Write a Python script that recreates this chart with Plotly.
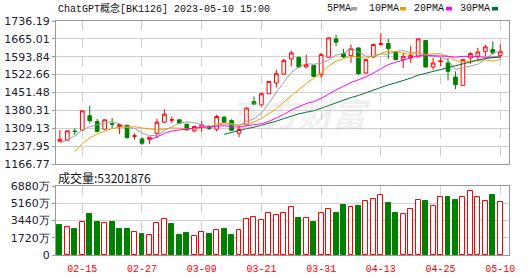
import plotly.graph_objects as go
import pandas as pd

# ---------------- data ----------------
dates = ["02-10","02-13","02-14","02-15","02-16","02-17","02-20","02-21","02-22","02-23",
         "02-24","02-27","02-28","03-01","03-02","03-03","03-06","03-07","03-08","03-09",
         "03-10","03-13","03-14","03-15","03-16","03-17","03-20","03-21","03-22","03-23",
         "03-24","03-27","03-28","03-29","03-30","03-31","04-03","04-04","04-06","04-07",
         "04-10","04-11","04-12","04-13","04-14","04-17","04-18","04-19","04-20","04-21",
         "04-24","04-25","04-26","04-27","04-28","05-04","05-05","05-08","05-09","05-10"]

opens = [1257.3,1262.0,1298.0,1302.0,1358.6,1335.9,1305.3,1327.0,1316.0,1321.3,
         1277.0,1266.6,1265.3,1289.3,1333.2,1341.0,1342.6,1325.3,1298.6,1312.0,
         1315.9,1305.3,1353.2,1340.0,1289.3,1322.6,1415.8,1402.5,1446.5,1489.1,
         1525.0,1585.0,1591.7,1553.0,1559.7,1522.4,1591.7,1664.9,1606.3,1598.3,
         1629.0,1529.0,1593.0,1643.0,1646.3,1611.6,1582.3,1589.0,1593.0,1658.3,
         1553.0,1574.4,1569.0,1513.0,1479.8,1589.0,1595.6,1615.6,1622.3,1599.6]
highs = [1302.6,1300.0,1309.0,1379.0,1398.5,1345.2,1344.0,1350.0,1328.0,1323.0,
         1289.0,1273.3,1276.0,1346.6,1385.2,1355.9,1345.2,1328.0,1318.6,1338.6,
         1322.6,1362.6,1358.6,1345.2,1318.6,1393.2,1435.8,1451.8,1497.0,1542.4,
         1585.0,1618.3,1593.0,1602.3,1561.0,1609.0,1670.0,1682.2,1625.0,1642.3,
         1631.6,1584.0,1646.3,1688.9,1665.0,1615.6,1609.0,1638.3,1666.0,1660.0,
         1589.0,1589.0,1589.0,1535.7,1585.0,1611.6,1629.0,1642.3,1655.6,1642.3]
lows = [1256.0,1258.0,1283.0,1299.0,1329.3,1294.0,1304.0,1308.0,1286.0,1268.0,
        1265.0,1242.7,1246.7,1269.3,1329.3,1329.3,1328.0,1300.0,1293.3,1296.0,
        1302.6,1296.0,1329.3,1300.0,1273.3,1318.6,1402.5,1393.2,1445.0,1471.8,
        1524.0,1555.7,1549.0,1549.0,1513.1,1509.1,1589.0,1635.6,1589.0,1569.0,
        1522.4,1527.0,1589.0,1638.3,1585.0,1580.0,1549.0,1569.0,1592.0,1552.0,
        1542.4,1555.7,1499.8,1465.1,1478.0,1565.0,1575.0,1595.6,1602.3,1589.0]
closes = [1265.3,1298.6,1296.0,1378.5,1339.9,1296.0,1342.6,1325.0,1324.0,1272.0,
          1279.0,1249.4,1273.3,1333.2,1365.2,1343.0,1329.3,1302.6,1316.0,1322.6,
          1308.0,1355.9,1331.9,1301.0,1304.0,1389.2,1405.2,1446.5,1495.8,1526.4,
          1579.7,1609.0,1553.0,1562.4,1515.7,1602.3,1668.9,1651.6,1593.0,1626.3,
          1526.4,1582.3,1642.3,1645.6,1626.3,1582.3,1595.6,1598.3,1664.9,1553.0,
          1569.0,1577.0,1535.7,1482.4,1582.3,1606.3,1613.0,1632.9,1609.0,1615.6]
# closes of the 7 sessions before the visible window (estimated from where the MA lines start)
prior_closes = [1060.0,1110.0,1140.0,1240.0,1215.0,1262.0,1272.0]

# volume in units of 万 (10,000)
volumes = [2991,2758,2592,3290,4121,3290,3190,3290,2592,2592,
           2293,2094,1961,3190,3556,3091,1994,2193,1861,2293,
           2094,2460,2592,1994,2460,3556,3755,3490,4188,3988,
           4154,4752,3656,3656,3323,4154,4553,4154,4985,4752,
           4885,5384,5550,5982,5151,4154,4054,4553,5484,5384,
           4885,5749,5749,5484,5749,6347,5749,5384,5982,5320]

price_ticks = [1166.77,1237.95,1309.13,1380.31,1451.48,1522.66,1593.84,1665.01,1736.19]
vol_ticks = [0,1720,3440,5160,6880]
vol_tick_text = ["0","1720万","3440万","5160万","6880万"]
tick_idx = [3,11,19,27,35,43,51,59]

ma_periods = [5,10,20,30]
ma_names = ["5PMA","10PMA","20PMA","30PMA"]
ma_colors = ["#a0a0a0","#f2a000","#ff00ff","#00702e"]

title_text = "ChatGPT概念[BK1126] 2023-05-10 15:00"
vol_label = "成交量:53201876"

# ---------------- derived ----------------
RED = "#ff0000"
GREEN = "#008000"
n = len(closes)
xs = list(range(n))
full = pd.Series(prior_closes + closes)
mas = [full.rolling(p).mean().iloc[len(prior_closes):].tolist() for p in ma_periods]

prev_close = [prior_closes[-1]] + closes[:-1]
vol_up = [c >= pc for c, pc in zip(closes, prev_close)]

W, H = 530, 276
ML, MR, MT, MB = 56, 21, 21, 21
PW, PH = W - ML - MR, H - MT - MB

def px_x(px):
    return (px - ML) / PW

def px_y(py):
    return (H - MB - py) / PH

fig = go.Figure()

# MA lines
for m, name, col in zip(mas, ma_names, ma_colors):
    fig.add_trace(go.Scatter(x=xs, y=m, mode="lines", name=name,
                             line=dict(color=col, width=1), xaxis="x", yaxis="y",
                             hoverinfo="skip", showlegend=False))

fig.add_trace(go.Candlestick(
    x=xs, open=opens, high=highs, low=lows, close=closes,
    increasing=dict(line=dict(color=RED, width=1), fillcolor="white"),
    decreasing=dict(line=dict(color=GREEN, width=1), fillcolor=GREEN),
    whiskerwidth=0, xaxis="x", yaxis="y", showlegend=False))

fig.add_trace(go.Bar(
    x=xs, y=volumes, width=0.66,
    marker=dict(color=["white" if u else GREEN for u in vol_up],
                line=dict(color=[RED if u else GREEN for u in vol_up], width=1)),
    xaxis="x2", yaxis="y2", showlegend=False))

xr = [-0.52, 60.17]
grid_c = "#cfcfcf"
axis_c = "#999999"
tick_font = dict(family="DejaVu Sans", size=11, color="#202030")

fig.update_layout(
    width=W, height=H, margin=dict(l=ML, r=MR, t=MT, b=MB, autoexpand=False),
    paper_bgcolor="white", plot_bgcolor="white",
    showlegend=False, bargap=0,
    xaxis=dict(domain=[0, 1], anchor="y", range=xr, tickvals=tick_idx,
               showticklabels=False, showgrid=True, gridcolor=grid_c, griddash="dash",
               gridwidth=1, showline=True, mirror=True, linecolor=axis_c, linewidth=1,
               zeroline=False, rangeslider=dict(visible=False), ticks="", automargin=False),
    yaxis=dict(domain=[px_y(164), 1], anchor="x", range=[price_ticks[0], price_ticks[-1]],
               tickvals=price_ticks, ticktext=[f"{v:.2f}" for v in price_ticks],
               showgrid=True, gridcolor=grid_c, gridwidth=1, showline=True, mirror=True,
               linecolor=axis_c, linewidth=1, zeroline=False, ticks="outside",
               ticklen=3, tickcolor=axis_c, tickfont=tick_font, automargin=False),
    xaxis2=dict(domain=[0, 1], anchor="y2", range=xr, tickvals=tick_idx,
                ticktext=[dates[i] for i in tick_idx],
                tickfont=dict(family="Liberation Mono", size=10, color=RED),
                showgrid=True, gridcolor=grid_c, griddash="dash", gridwidth=1,
                showline=True, mirror=True, linecolor=axis_c, linewidth=1,
                zeroline=False, ticks="outside", ticklen=4, tickcolor="rgba(0,0,0,0)",
                automargin=False),
    yaxis2=dict(domain=[0, px_y(186)], anchor="x2", range=[0, vol_ticks[-1]],
                tickvals=vol_ticks, ticktext=vol_tick_text,
                showgrid=True, gridcolor=grid_c, gridwidth=1, showline=True, mirror=True,
                linecolor=axis_c, linewidth=1, zeroline=False, ticks="outside",
                ticklen=3, tickcolor=axis_c, tickfont=tick_font, automargin=False),
)

ann = []
# watermark
ann.append(dict(text="东方财富", x=px_x(300), y=px_y(86), xref="paper", yref="paper",
                showarrow=False, font=dict(family="Noto Sans CJK SC", size=34,
                                           color="rgba(190,190,190,0.22)", style="italic",
                                           weight="bold")))
# title
ann.append(dict(text=title_text, x=px_x(56), y=px_y(9), xref="paper", yref="paper",
                xanchor="left", yanchor="middle", showarrow=False,
                font=dict(family="Liberation Mono, Noto Sans CJK SC", size=10, color="#111")))
# volume label
ann.append(dict(text=vol_label, x=px_x(56), y=px_y(177.5), xref="paper", yref="paper",
                xanchor="left", yanchor="middle", showarrow=False,
                font=dict(family="Noto Sans CJK SC", size=12, color="#111")))

# legend (text + colour chips)
leg_text_x = [325, 367, 412, 458]
leg_chip_x = [351, 400, 446, 492]
shapes = []
for name, col, tx, cx in zip(ma_names, ma_colors, leg_text_x, leg_chip_x):
    ann.append(dict(text=name, x=px_x(tx), y=px_y(9), xref="paper", yref="paper",
                    xanchor="left", yanchor="middle", showarrow=False,
                    font=dict(family="Liberation Mono", size=10, color="#111")))
    shapes.append(dict(type="rect", xref="paper", yref="paper",
                       x0=px_x(cx), x1=px_x(cx + 6), y0=px_y(10.5), y1=px_y(7),
                       fillcolor=col, line=dict(width=0)))

fig.update_layout(annotations=ann, shapes=shapes)
fig.write_html("out.html")
